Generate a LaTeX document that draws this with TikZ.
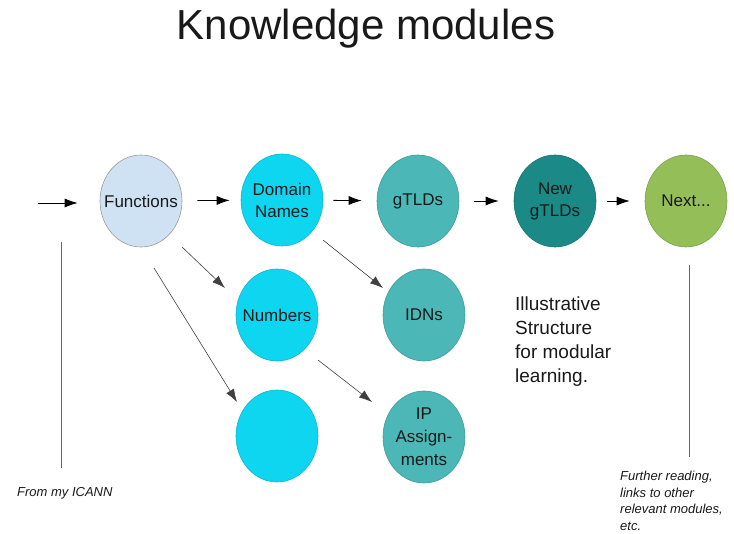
\documentclass[tikz,border=0pt]{standalone}
\usepackage{fontspec}
\setmainfont{Liberation Sans}
\usetikzlibrary{arrows.meta,calc,shapes.geometric}
\definecolor{cfunc}{RGB}{207,226,243}
\definecolor{ccyan}{RGB}{14,214,240}
\definecolor{cteal}{RGB}{75,183,182}
\definecolor{cdark}{RGB}{27,137,133}
\definecolor{cgreen}{RGB}{148,190,88}
\tikzset{
  mod/.style={ellipse,minimum width=82pt,minimum height=92pt,inner sep=0pt,line width=0.6pt},
  modtext/.style={align=center,font=\fontsize{17}{22}\selectfont,text=black!90,inner sep=0pt},
  arr/.style={-{Latex[length=13pt,width=9pt]},line width=0.8pt,black},
  diag/.style={-{Latex[length=13pt,width=9pt]},line width=0.6pt,black!75},
  hop/.style={arr},
  vline/.style={line width=0.8pt,black!60},
  note/.style={font=\fontsize{13}{16.5}\selectfont\itshape,align=left,inner sep=0pt,text=black!90}
}
\begin{document}
\begin{tikzpicture}[x=1pt,y=-1pt]
\useasboundingbox (0,0) rectangle (734,534);
\node[font=\fontsize{42}{48}\selectfont,text=black!90] (title) at (366,29) {Knowledge modules};

\node[mod,fill=cfunc,draw=black!40,label={[modtext]center:Functions}] (f) at (141,201) {};
\node[mod,fill=ccyan,draw=ccyan!85!black,label={[modtext]center:Domain\\Names}] (d) at (282,200) {};
\node[mod,fill=cteal,draw=cteal!85!black,label={[modtext]center:gTLDs}] (g) at (418,201) {};
\node[mod,fill=cdark,draw=cdark!85!black,label={[modtext]center:New\\gTLDs}] (ng) at (555,201) {};
\node[mod,fill=cgreen,draw=cgreen!85!black,label={[modtext]center:Next...}] (nx) at (686,201) {};

\node[mod,fill=ccyan,draw=ccyan!85!black,label={[modtext]center:Numbers}] (n) at (277,315) {};
\node[mod,fill=cteal,draw=cteal!85!black,label={[modtext]center:IDNs}] (i) at (424,315) {};
\node[mod,fill=ccyan,draw=ccyan!85!black] (e) at (277,436) {};
\node[mod,fill=cteal,draw=cteal!85!black,label={[modtext,font=\fontsize{17}{23}\selectfont]center:IP\\Assign-\\ments}] (ip) at (424,437) {};

\coordinate (s) at (38,203);
\draw[arr,shorten >=22pt] (s) -- (s -| f.west);
\draw[hop,shorten <=15pt,shorten >=11pt] (f) -- (d);
\draw[hop,shorten <=10pt,shorten >=15pt] (d) -- (g);
\draw[hop,shorten <=15pt,shorten >=15pt] (g) -- (ng);
\draw[hop,shorten <=11pt,shorten >=15pt] (ng) -- (nx);

\draw[diag] ($(f)+(41,46)$) -- ($(n)+(-52,-27)$);
\draw[diag] ($(f)+(13,67)$) -- ($(e)+(-40,-34)$);
\draw[diag] ($(d)+(41,40)$) -- ($(i)+(-41,-27)$);
\draw[diag] ($(n)+(41,45)$) -- ($(ip)+(-52,-35)$);

\coordinate (l1) at (61,242);
\coordinate (l2) at (61,468);
\draw[vline] (l1) -- (l2);
\coordinate (r1) at (689,265);
\coordinate (r2) at (689,457);
\draw[vline] (r1) -- (r2);

\node[note,anchor=west] (from) at (17,493) {From my ICANN};
\node[note,anchor=north west] (further) at (620,471) {Further reading,\\links to other\\relevant modules,\\etc.};
\node[font=\fontsize{19}{24}\selectfont,align=left,inner sep=0pt,anchor=north west,text=black!90] (ill) at (515,297) {Illustrative\\Structure\\for modular\\learning.};
\end{tikzpicture}
\end{document}
